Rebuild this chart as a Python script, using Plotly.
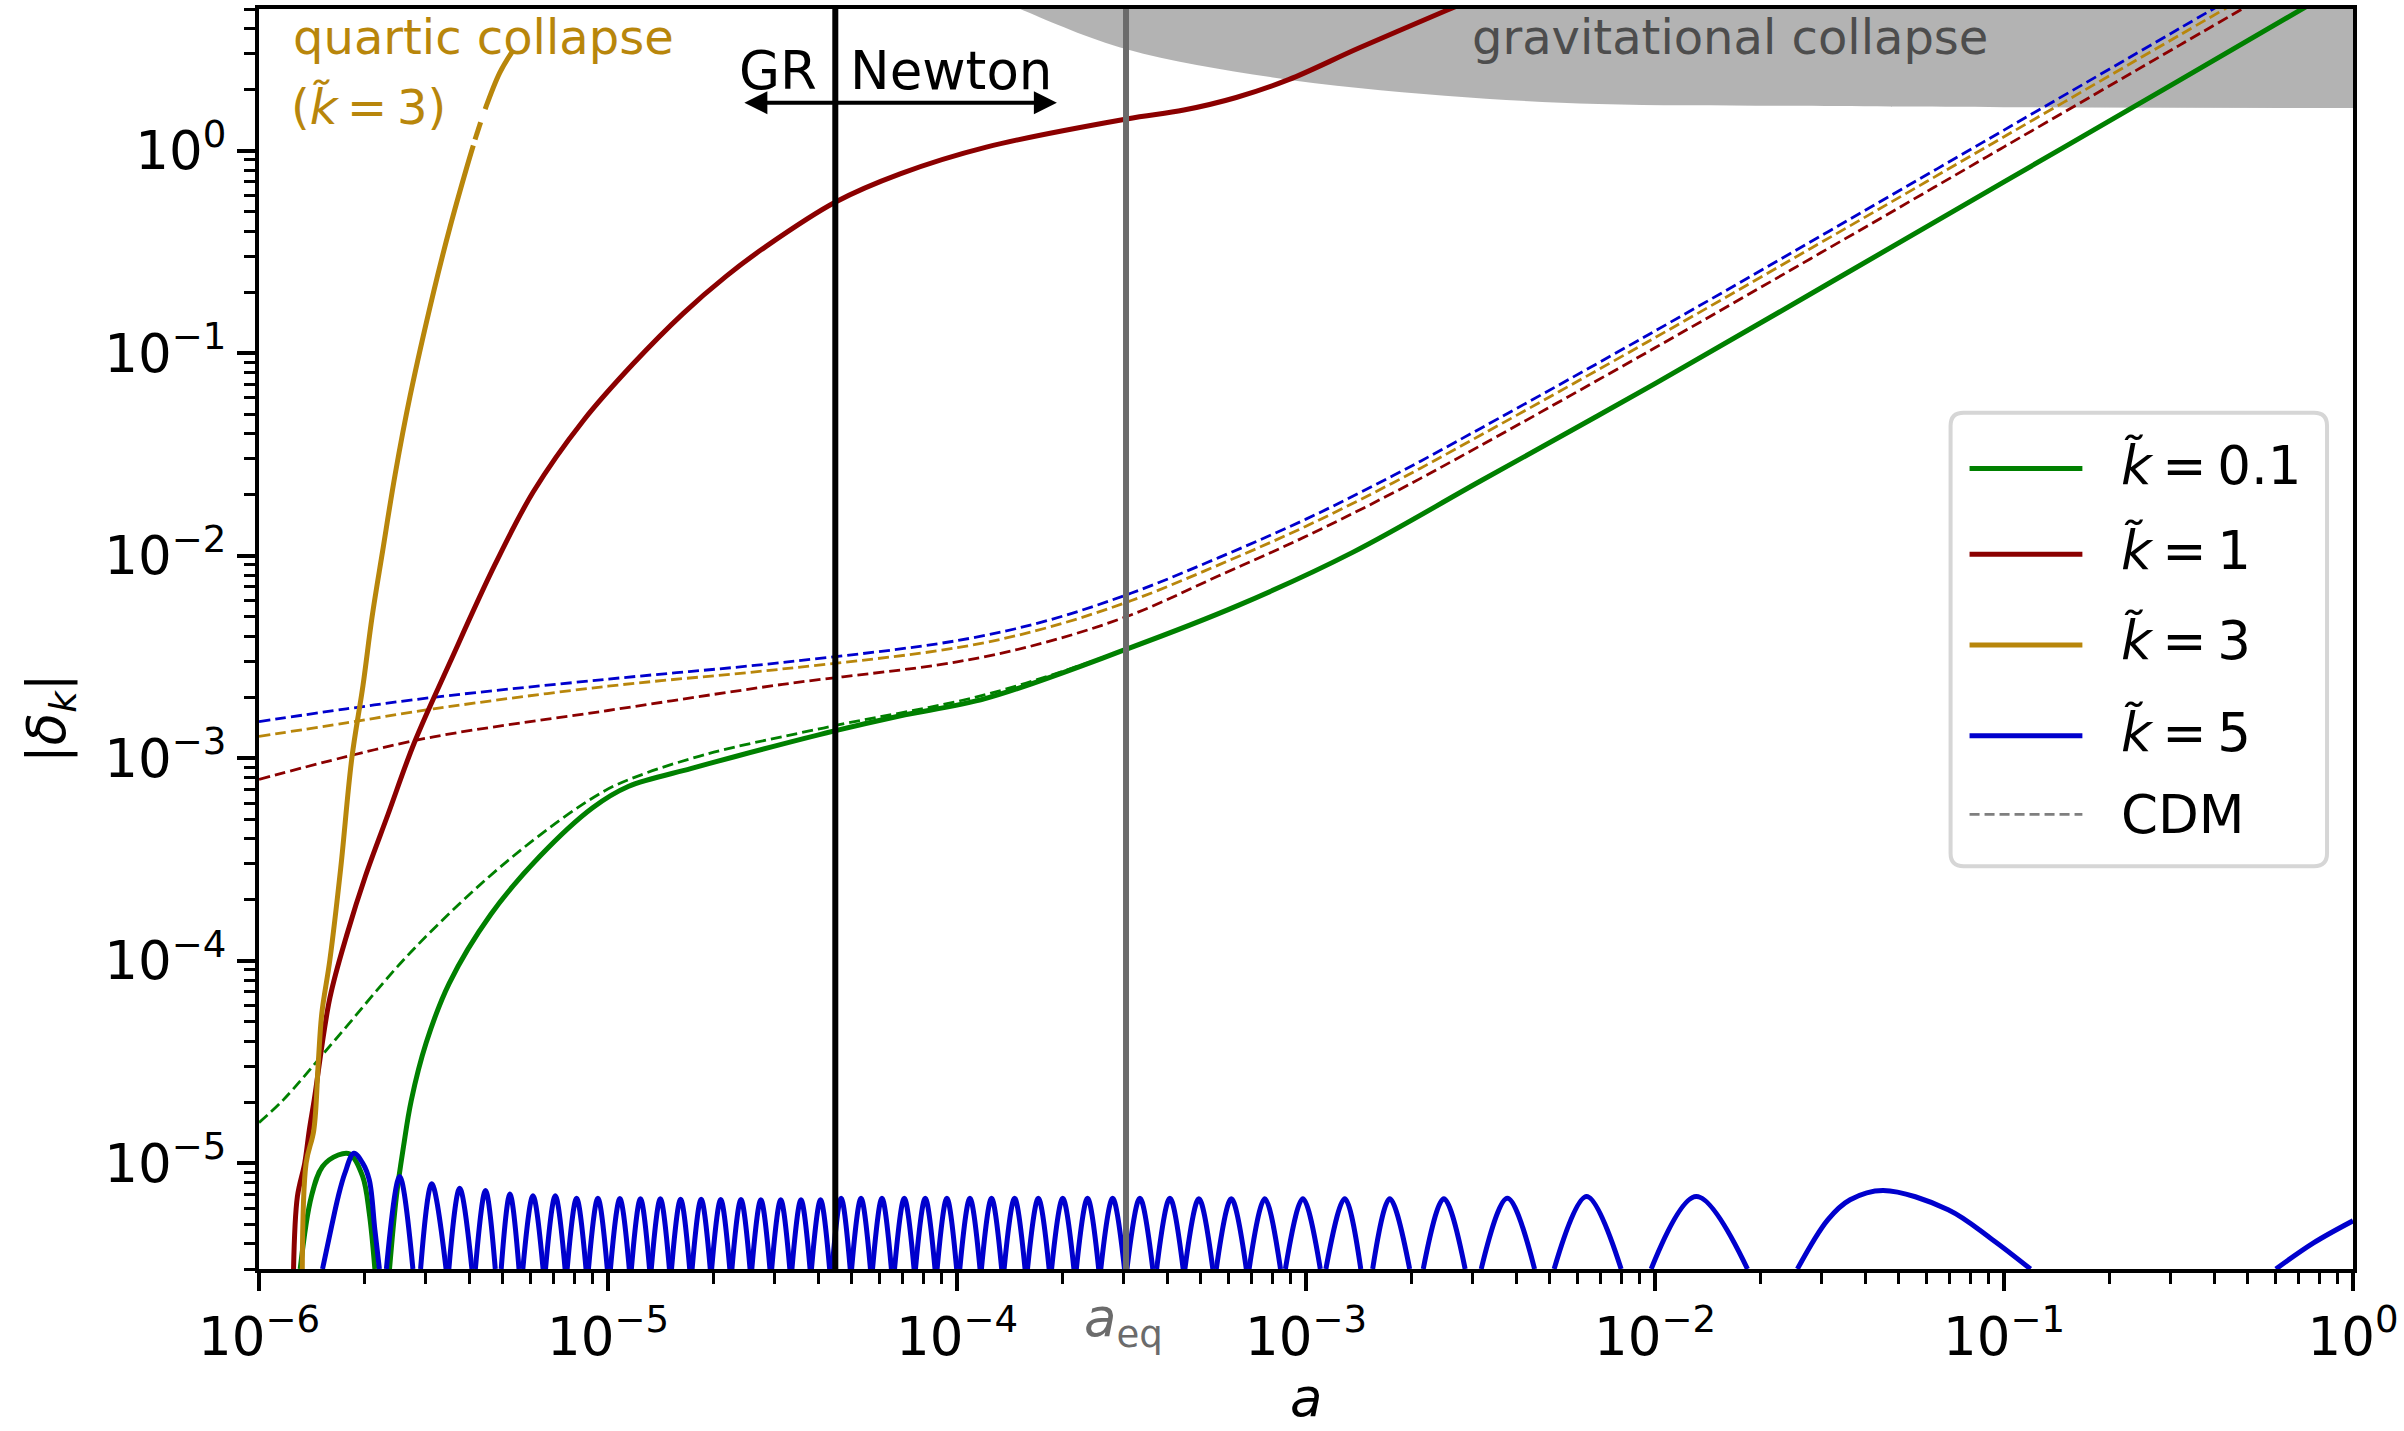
import numpy as np
import plotly.graph_objects as go

# ---------------- figure geometry ----------------
W, H = 2404, 1431
ML, MR, MT, MB = 259, 48, 5, 162
PW, PH = W - ML - MR, H - MT - MB

A_MIN, A_MAX = 1e-6, 1.0
D_MIN, D_MAX = 3e-6, 5.0
FLOOR = np.log10(D_MIN)

# ---------------- characteristic scale factors ----------------
a_gr_newton = 4.48e-5
a_eq = 3.05e-4

# ---------------- CDM reference growth (log10 a, log10 |delta_k|) ----------------
cdm_log_a = [-6.0, -5.75, -5.5, -5.0, -4.5, -4.0, -3.75, -3.5, -3.25, -3.0,
             -2.75, -2.5, -2.0, -1.5, -1.0, -0.5, -0.2]
cdm_k5_log_delta = [-2.820, -2.757, -2.700, -2.610, -2.528, -2.420, -2.325, -2.185, -2.010, -1.820,
                    -1.605, -1.372, -0.891, -0.397, 0.101, 0.600, 0.900]
cdm_k3_log_delta = [-2.893, -2.826, -2.757, -2.645, -2.560, -2.455, -2.360, -2.222, -2.046, -1.855,
                    -1.640, -1.406, -0.924, -0.430, 0.068, 0.567, 0.867]
cdm_k1_log_delta = [-3.105, -2.993, -2.895, -2.765, -2.636, -2.525, -2.430, -2.292, -2.100, -1.905,
                    -1.690, -1.457, -0.974, -0.480, 0.018, 0.517, 0.817]

cdm_k01_log_a = [-6.0, -5.931, -5.782, -5.555, -5.274, -5.016, -4.891, -4.737, -4.635, -4.348,
                 -3.917, -3.514, -3.194, -2.865, -2.5, -2.0, -1.5, -1.0, -0.5, -0.1]
cdm_k01_log_delta = [-4.800, -4.689, -4.392, -3.940, -3.488, -3.168, -3.074, -2.990, -2.945, -2.839,
                     -2.686, -2.462, -2.246, -1.983, -1.632, -1.151, -0.654, -0.155, 0.344, 0.745]

# ---------------- k = 0.1 ----------------
k01_early_log_a = [-5.882, -5.850, -5.818, -5.773, -5.740, -5.703, -5.684, -5.668]
k01_early_log_delta = [FLOOR, -5.165, -5.017, -4.960, -4.955, -5.066, -5.247, FLOOR]
k01_log_a = [-5.626, -5.606, -5.586, -5.564, -5.521, -5.455, -5.336, -5.196, -5.044, -4.942,
             -4.763, -4.635, -4.354, -4.165, -3.917, -3.514, -3.194, -2.865, -2.5, -2.0,
             -1.5, -1.0, -0.5, -0.1]
k01_log_delta = [FLOOR, -5.160, -4.919, -4.693, -4.406, -4.112, -3.772, -3.486, -3.245, -3.140,
                 -3.052, -2.992, -2.867, -2.792, -2.705, -2.462, -2.246, -1.983, -1.632, -1.151,
                 -0.654, -0.155, 0.344, 0.745]

# ---------------- k = 1 ----------------
k1_log_a = [-5.901, -5.890, -5.869, -5.856, -5.842, -5.797, -5.747, -5.695, -5.631, -5.555,
            -5.453, -5.324, -5.214, -5.071, -4.928, -4.785, -4.661, -4.547, -4.348, -4.163,
            -3.916, -3.514, -3.350, -3.200, -3.050, -2.850, -2.600, -2.45]
k1_log_delta = [FLOOR, -5.165, -5.000, -4.838, -4.690, -4.185, -3.865, -3.582, -3.281, -2.924,
                -2.528, -2.045, -1.685, -1.334, -1.053, -0.805, -0.620, -0.473, -0.254, -0.115,
                0.017, 0.156, 0.200, 0.262, 0.350, 0.505, 0.690, 0.800]

# ---------------- k = 3 (three pieces, broken near the collapse) ----------------
k3_log_a = [-5.876, -5.865, -5.843, -5.830, -5.820, -5.797, -5.766, -5.734, -5.702, -5.676,
            -5.646, -5.610, -5.567, -5.500, -5.453, -5.405, -5.386]
k3_log_delta = [FLOOR, -5.000, -4.838, -4.500, -4.260, -3.997, -3.545, -3.000, -2.641, -2.303,
                -1.980, -1.600, -1.211, -0.700, -0.380, -0.085, 0.025]
k3_mid_log_a = [-5.381, -5.365]
k3_mid_log_delta = [0.055, 0.140]
k3_end_log_a = [-5.352, -5.310, -5.272]
k3_end_log_delta = [0.205, 0.385, 0.495]

# ---------------- k = 5 ----------------
k5_early_log_a = [-5.818, -5.792, -5.773, -5.754, -5.728, -5.703, -5.684, -5.668, -5.655]
k5_early_log_delta = [FLOOR, -5.312, -5.165, -5.050, -4.951, -5.000, -5.083, -5.329, FLOOR]

# oscillation arches: left floor crossing, peak position, right floor crossing, peak height
k5_arch_left = [-5.635, -5.537, -5.456, -5.380, -5.306, -5.244, -5.179, -5.117, -5.056, -4.993,
                -4.933, -4.876, -4.818, -4.759, -4.703, -4.645, -4.588, -4.531, -4.473, -4.417,
                -4.358, -4.302, -4.242, -4.179, -4.119, -4.057, -3.992, -3.930, -3.865, -3.798,
                -3.729, -3.658, -3.588, -3.513, -3.428, -3.347, -3.257, -3.163, -3.059, -2.943,
                -2.809, -2.664, -2.498, -2.289, -2.011]
k5_arch_peak = [-5.597, -5.505, -5.425, -5.351, -5.281, -5.215, -5.151, -5.090, -5.029, -4.966,
                -4.907, -4.850, -4.792, -4.733, -4.677, -4.619, -4.562, -4.505, -4.447, -4.391,
                -4.332, -4.275, -4.215, -4.151, -4.091, -4.029, -3.963, -3.901, -3.835, -3.767,
                -3.697, -3.626, -3.554, -3.476, -3.390, -3.307, -3.214, -3.118, -3.009, -2.889,
                -2.760, -2.605, -2.423, -2.196, -1.882]
k5_arch_right = [-5.559, -5.464, -5.390, -5.323, -5.255, -5.186, -5.123, -5.063, -5.002, -4.939,
                 -4.881, -4.824, -4.766, -4.707, -4.651, -4.593, -4.536, -4.479, -4.421, -4.365,
                 -4.306, -4.248, -4.188, -4.123, -4.063, -4.001, -3.934, -3.872, -3.805, -3.736,
                 -3.665, -3.594, -3.520, -3.439, -3.352, -3.267, -3.171, -3.073, -2.959, -2.843,
                 -2.703, -2.544, -2.345, -2.097, -1.735]
k5_arch_height = [-5.066, -5.102, -5.124, -5.135, -5.153, -5.161, -5.161, -5.173, -5.173, -5.175,
                  -5.176, -5.176, -5.178, -5.178, -5.180, -5.180, -5.181, -5.181, -5.181, -5.181,
                  -5.173, -5.173, -5.173, -5.173, -5.173, -5.173, -5.173, -5.173, -5.173, -5.173,
                  -5.173, -5.173, -5.173, -5.173, -5.173, -5.176, -5.176, -5.176, -5.176, -5.176,
                  -5.176, -5.176, -5.173, -5.165, -5.165]
k5_late_log_a = [-1.592, -1.505, -1.441, -1.346, -1.160, -1.033, -0.924]
k5_late_log_delta = [FLOOR, -5.280, -5.181, -5.135, -5.230, -5.378, FLOOR]
k5_tail_log_a = [-0.221, -0.113, 0.0]
k5_tail_log_delta = [FLOOR, -5.394, -5.285]

# ---------------- gravitational collapse threshold ----------------
collapse_log_a = [-3.920, -3.809, -3.514, -3.095, -2.602, -2.162, -1.624, -1.0, 0.0]
collapse_log_delta = [0.780, 0.692, 0.500, 0.361, 0.271, 0.230, 0.221, 0.214, 0.210]
collapse_top = 10.0

# ---------------- styling ----------------
C_GREEN, C_RED, C_GOLD, C_BLUE = "#008000", "#8b0000", "#b8860b", "#0000cd"
C_EQ = "#6b6b6b"
FONT = "DejaVu Sans"
LW = 5.0
DASH = "11px,5px"
THIN = "\u2009"


def lin(values):
    return [None if v is None else 10 ** v for v in values]


def px_x(px):
    return (px - ML) / PW


def px_y(py):
    return 1 - (py - MT) / PH


fig = go.Figure()

# shaded collapse region (drawn first, curves go on top)
fig.add_trace(go.Scatter(x=lin([collapse_log_a[0], collapse_log_a[-1]]),
                         y=[collapse_top, collapse_top], mode="lines",
                         line=dict(width=0), hoverinfo="skip", showlegend=False))
fig.add_trace(go.Scatter(x=lin(collapse_log_a), y=lin(collapse_log_delta), mode="lines",
                         line=dict(width=0, shape="spline"), fill="tonexty",
                         fillcolor="rgba(128,128,128,0.6)", hoverinfo="skip", showlegend=False))


def curve(log_a, log_d, color, width=LW, dash="solid", smooth=1.0):
    fig.add_trace(go.Scatter(x=lin(log_a), y=lin(log_d), mode="lines",
                             line=dict(color=color, width=width, dash=dash,
                                       shape="spline", smoothing=smooth),
                             connectgaps=False, hoverinfo="skip", showlegend=False))


# CDM references
curve(cdm_k01_log_a, cdm_k01_log_delta, C_GREEN, width=2.8, dash=DASH)
curve(cdm_log_a, cdm_k1_log_delta, C_RED, width=2.8, dash=DASH)
curve(cdm_log_a, cdm_k3_log_delta, C_GOLD, width=2.8, dash=DASH)
curve(cdm_log_a, cdm_k5_log_delta, C_BLUE, width=2.8, dash=DASH)

# k = 0.1
curve(k01_early_log_a + [None] + k01_log_a, k01_early_log_delta + [None] + k01_log_delta, C_GREEN)
# k = 1
curve(k1_log_a, k1_log_delta, C_RED)
# k = 3
curve(k3_log_a + [None] + k3_mid_log_a + [None] + k3_end_log_a,
      k3_log_delta + [None] + k3_mid_log_delta + [None] + k3_end_log_delta, C_GOLD)

# k = 5: early bump, arches, final wide arch and the rising tail
bx, by = list(k5_early_log_a) + [None], list(k5_early_log_delta) + [None]
for l, p, r, h in zip(k5_arch_left, k5_arch_peak, k5_arch_right, k5_arch_height):
    bx += [l, p, r, None]
    by += [FLOOR, h, FLOOR, None]
bx += k5_late_log_a + [None] + k5_tail_log_a
by += k5_late_log_delta + [None] + k5_tail_log_delta
curve(bx, by, C_BLUE)

# GR / Newton boundary and matter-radiation equality
for a_line, col in ((a_gr_newton, "black"), (a_eq, C_EQ)):
    fig.add_trace(go.Scatter(x=[a_line, a_line], y=[1e-8, 1e2], mode="lines",
                             line=dict(color=col, width=6), hoverinfo="skip", showlegend=False))

# ---------------- axes ----------------
major_x = [10.0 ** e for e in range(-6, 1)]
major_y = [10.0 ** e for e in range(-5, 1)]
minor_x = [m * 10.0 ** e for e in range(-6, 0) for m in range(2, 10)]
minor_y = [m * 10.0 ** e for e in range(-6, 1) for m in range(2, 10) if D_MIN <= m * 10.0 ** e <= D_MAX]


def power_label(e):
    return "10<sup>%s</sup>" % (str(e).replace("-", "\u2212"))


axis_common = dict(type="log", showgrid=False, zeroline=False, showline=True, linewidth=4,
                   linecolor="black", mirror=True, ticks="outside", ticklen=18, tickwidth=4,
                   tickcolor="black", tickfont=dict(family=FONT, size=53, color="black"),
                   tickmode="array")
fig.update_xaxes(range=[np.log10(A_MIN), np.log10(A_MAX)], tickvals=major_x,
                 ticktext=[power_label(e) for e in range(-6, 1)],
                 minor=dict(tickmode="array", tickvals=minor_x, ticks="outside", ticklen=11,
                            tickwidth=3, tickcolor="black", showgrid=False),
                 **axis_common)
fig.update_yaxes(range=[np.log10(D_MIN), np.log10(D_MAX)], tickvals=major_y,
                 ticktext=[power_label(e) for e in range(-5, 1)],
                 minor=dict(tickmode="array", tickvals=minor_y, ticks="outside", ticklen=11,
                            tickwidth=3, tickcolor="black", showgrid=False),
                 **axis_common)

# ---------------- text ----------------
ann = []


def text(s, x, y, size, color="black", xanchor="left", yanchor="middle", angle=0):
    ann.append(dict(text=s, x=x, y=y, xref="paper", yref="paper", xanchor=xanchor,
                    yanchor=yanchor, showarrow=False, textangle=angle,
                    font=dict(family=FONT, size=size, color=color)))


text("<i>a</i>", px_x(1307), px_y(1431), 53, xanchor="center", yanchor="bottom")
text("|<i>\u03b4</i><sub><i>k</i></sub>|", px_x(50), px_y(716), 53, xanchor="center", angle=-90)
text("<i>a</i><sub>eq</sub>", px_x(1125), px_y(1322), 53, color=C_EQ, xanchor="center")
text("quartic collapse", px_x(291), px_y(33), 48, color=C_GOLD)
text("(<i>k\u0303</i>" + THIN + "=" + THIN + "3)", px_x(289), px_y(103), 48, color=C_GOLD)
text("gravitational collapse", px_x(1472), px_y(33), 48, color="#4d4d4d")
text("GR", px_x(820), px_y(67), 53, xanchor="right")
text("Newton", px_x(849), px_y(67), 53)

# double arrow marking the GR / Newton sides
ann.append(dict(x=px_x(1058), y=px_y(99), xref="paper", yref="paper", ax=-(1058 - 744), ay=0,
                text="", showarrow=True, arrowside="end+start", arrowhead=2, arrowsize=1.15,
                arrowwidth=4, arrowcolor="black", standoff=0, startstandoff=0))

# ---------------- legend ----------------
shapes = []


def rounded_box(x0, y0, x1, y1, r):
    pts = [("M", x0 + r, y0), ("L", x1 - r, y0), ("Q", x1, y0, x1, y0 + r), ("L", x1, y1 - r),
           ("Q", x1, y1, x1 - r, y1), ("L", x0 + r, y1), ("Q", x0, y1, x0, y1 - r),
           ("L", x0, y0 + r), ("Q", x0, y0, x0 + r, y0)]
    path = ""
    for p in pts:
        cmd, coords = p[0], p[1:]
        xy = []
        for i in range(0, len(coords), 2):
            xy.append("%.5f,%.5f" % (px_x(coords[i]), px_y(coords[i + 1])))
        path += cmd + " ".join(xy)
    return path + "Z"


shapes.append(dict(type="path", xref="paper", yref="paper", path=rounded_box(1953, 410, 2330, 865, 13),
                   fillcolor="white", line=dict(color="#d6d6d6", width=4), layer="above"))

eq = THIN + "=" + THIN
legend_items = [("<i>k\u0303</i>" + eq + "0.1", C_GREEN, "solid", 5, 466, 462),
                ("<i>k\u0303</i>" + eq + "1", C_RED, "solid", 5, 552, 548),
                ("<i>k\u0303</i>" + eq + "3", C_GOLD, "solid", 5, 643, 638),
                ("<i>k\u0303</i>" + eq + "5", C_BLUE, "solid", 5, 734, 730),
                ("CDM", "#7f7f7f", "10px,5px", 2.8, 813, 813)]
for label, col, dash, w, ly, ty in legend_items:
    shapes.append(dict(type="line", xref="paper", yref="paper", x0=px_x(1972), x1=px_x(2085),
                       y0=px_y(ly), y1=px_y(ly), line=dict(color=col, width=w, dash=dash),
                       layer="above"))
    text(label, px_x(2122), px_y(ty), 53)

fig.update_layout(width=W, height=H, margin=dict(l=ML, r=MR, t=MT, b=MB),
                  paper_bgcolor="white", plot_bgcolor="white", showlegend=False,
                  annotations=ann, shapes=shapes, font=dict(family=FONT))

fig.write_html("out.html", config=dict(displayModeBar=False))
